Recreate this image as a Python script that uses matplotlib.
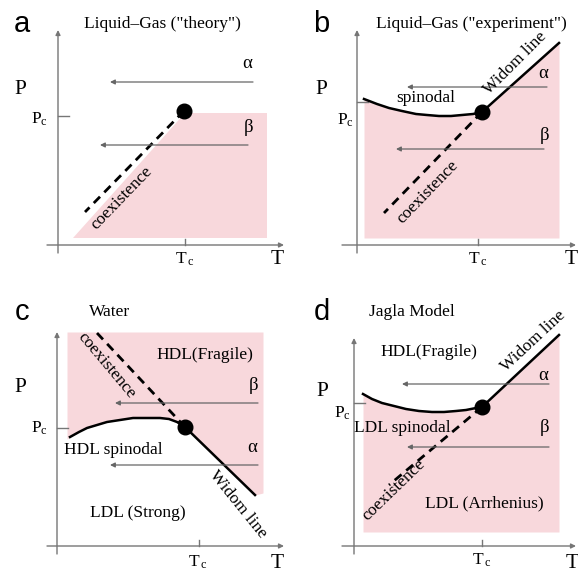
import matplotlib.pyplot as plt

plt.rcParams['font.family'] = ['Liberation Serif', 'DejaVu Serif']
plt.rcParams['mathtext.default'] = 'regular'

PINK = '#f8d8dc'
AXIS = '#767676'
ARROW = '#666666'

# ---- panel a : liquid-gas "theory"  (T, P in schematic units)
a_crit = (126, 134)
a_pink_T = [15, 127, 209, 209]
a_pink_P = [7, 132, 132, 7]
a_coex_T = [126, 27]
a_coex_P = [134, 33]
a_alpha = (195, 52, 163)     # T start, T end, P
a_beta = (190, 42, 100)

# ---- panel b : liquid-gas "experiment"
b_crit = (125, 133)
b_spin_T = [7, 20, 32, 45, 59, 70, 82, 94, 105, 116, 125]
b_spin_P = [146, 141, 137, 134, 131, 130, 129, 129, 130, 131, 133]
b_widom_T = [125, 202]
b_widom_P = [133, 202]
b_coex_T = [125, 27]
b_coex_P = [133, 32]
b_alpha = (190, 50, 158)
b_beta = (187, 39, 96)

# ---- panel c : water
c_crit = (128, 119)
c_spin_T = [13, 22, 30, 40, 50, 63, 76, 90, 103, 112, 120, 128]
c_spin_P = [109, 114, 118, 121, 124, 126, 128, 128, 128, 127, 124, 119]
c_widom_T = [128, 198]
c_widom_P = [119, 51]
c_coex_T = [128, 40]
c_coex_P = [119, 213]
c_alpha = (201, 53, 81)
c_beta = (201, 58, 143)

# ---- panel d : Jagla model
d_crit = (128, 139)
d_spin_T = [9, 18, 28, 40, 52, 65, 78, 90, 102, 112, 122, 128]
d_spin_P = [152, 147, 143, 140, 137, 135, 134, 134, 135, 136, 138, 139]
d_widom_T = [128, 205]
d_widom_P = [139, 211]
d_coex_T = [128, 35]
d_coex_P = [139, 61]
d_alpha = (195, 48, 162)
d_beta = (195, 53, 99)


def frame(ax, xlim, ylim, ytop, xleft, xright, Tc, Pc):
    ax.set_xlim(*xlim)
    ax.set_ylim(*ylim)
    ax.axis('off')
    ax.annotate('', xy=(0, ytop), xytext=(0, -8),
                arrowprops=dict(arrowstyle='-|>', color=AXIS, lw=1.0,
                                mutation_scale=7, shrinkA=0, shrinkB=0))
    ax.annotate('', xy=(xright, 0), xytext=(xleft, 0),
                arrowprops=dict(arrowstyle='-|>', color=AXIS, lw=1.0,
                                mutation_scale=7, shrinkA=0, shrinkB=0))
    ax.plot([0, 11], [Pc, Pc], color=AXIS, lw=1.0)
    ax.plot([Tc, Tc], [0, 6], color=AXIS, lw=1.0)


def hline_arrow(ax, spec):
    t0, t1, p = spec
    ax.annotate('', xy=(t1, p), xytext=(t0, p),
                arrowprops=dict(arrowstyle='-|>', color=ARROW, lw=0.9,
                                mutation_scale=7, shrinkA=0, shrinkB=0))


def crit_point(ax, pt):
    ax.plot(pt[0], pt[1], 'o', color='black', markersize=10.5, zorder=5)


def coex(ax, T, P):
    ax.plot(T, P, color='black', lw=2.0, linestyle=(0, (3.2, 2.2)), zorder=3)


fig = plt.figure(figsize=(5.78, 5.71), dpi=100)
W, H = 578, 571

ax_a = fig.add_axes([0, 1 - 285 / H, 289 / W, 285 / H])
ax_b = fig.add_axes([289 / W, 1 - 285 / H, 289 / W, 285 / H])
ax_c = fig.add_axes([0, 0, 289 / W, 286 / H])
ax_d = fig.add_axes([289 / W, 0, 289 / W, 286 / H])

big = 15.5
lab = 12.5
greek = 13.5
letter = dict(family='Liberation Sans', fontsize=21, ha='center', va='center')

# ---------------- a
ax = ax_a
frame(ax, (-58, 231), (-40, 245), 215, -11, 226, 127, 129)
ax.fill(a_pink_T, a_pink_P, color=PINK, lw=0, zorder=0)
coex(ax, a_coex_T, a_coex_P)
crit_point(ax, a_crit)
hline_arrow(ax, a_alpha)
hline_arrow(ax, a_beta)
ax.text(190, 181, r'$\alpha$', fontsize=greek, ha='center', va='center')
ax.text(190, 118, r'$\beta$', fontsize=greek, ha='center', va='center')
ax.text(64, 47, 'coexistence', fontsize=lab, rotation=46, ha='center', va='center')
ax.text(104, 221, 'Liquid\u2013Gas ("theory")', fontsize=lab, ha='center', va='center')
ax.text(-36, 221, 'a', **letter)
ax.text(-38, 155, 'P', fontsize=big, ha='center', va='center')
ax.text(219, -14, 'T', fontsize=big, ha='center', va='center')
ax.text(-19, 126, r'$P_c$', fontsize=lab, ha='center', va='center')
ax.text(127, -14, r'$T_{\,c}$', fontsize=lab, ha='center', va='center')

# ---------------- b
ax = ax_b
frame(ax, (-68, 221), (-40, 245), 215, -15, 219, 121, 143)
ax.fill_between(b_spin_T + b_widom_T, 7, b_spin_P + b_widom_P, color=PINK, lw=0, zorder=0)
ax.plot(b_spin_T, b_spin_P, color='black', lw=1.8)
ax.plot(b_widom_T, b_widom_P, color='black', lw=1.8)
coex(ax, b_coex_T, b_coex_P)
crit_point(ax, b_crit)
hline_arrow(ax, b_alpha)
hline_arrow(ax, b_beta)
ax.text(187, 172, r'$\alpha$', fontsize=greek, ha='center', va='center')
ax.text(187, 110, r'$\beta$', fontsize=greek, ha='center', va='center')
ax.text(69, 147, 'spinodal', fontsize=lab, ha='center', va='center')
ax.text(158, 182, 'Widom line', fontsize=lab, rotation=45, ha='center', va='center')
ax.text(71, 53, 'coexistence', fontsize=lab, rotation=46, ha='center', va='center')
ax.text(114, 221, 'Liquid\u2013Gas ("experiment")', fontsize=lab, ha='center', va='center')
ax.text(-36, 221, 'b', **letter)
ax.text(-36, 155, 'P', fontsize=big, ha='center', va='center')
ax.text(214, -14, 'T', fontsize=big, ha='center', va='center')
ax.text(-12, 125, r'$P_c$', fontsize=lab, ha='center', va='center')
ax.text(121, -14, r'$T_{\,c}$', fontsize=lab, ha='center', va='center')

# ---------------- c
ax = ax_c
frame(ax, (-57, 232), (-25, 261), 214, -10, 227, 142, 118)
ax.fill_between([10] + c_spin_T + c_widom_T + [206], [107] + c_spin_P + c_widom_P + [53], 214,
                color=PINK, lw=0, zorder=0)
ax.plot(c_spin_T, c_spin_P, color='black', lw=1.8)
ax.plot(c_widom_T, c_widom_P, color='black', lw=1.8)
coex(ax, c_coex_T, c_coex_P)
crit_point(ax, c_crit)
hline_arrow(ax, c_alpha)
hline_arrow(ax, c_beta)
ax.text(196, 98, r'$\alpha$', fontsize=greek, ha='center', va='center')
ax.text(196, 161, r'$\beta$', fontsize=greek, ha='center', va='center')
ax.text(148, 191, 'HDL(Fragile)', fontsize=lab, ha='center', va='center')
ax.text(56, 96, 'HDL spinodal', fontsize=lab, ha='center', va='center')
ax.text(81, 33, 'LDL (Strong)', fontsize=lab, ha='center', va='center')
ax.text(181, 42, 'Widom line', fontsize=lab, rotation=-51, ha='center', va='center')
ax.text(50, 180, 'coexistence', fontsize=lab, rotation=-50, ha='center', va='center')
ax.text(53, 234, 'Water', fontsize=lab, ha='center', va='center')
ax.text(-35, 234, 'c', **letter)
ax.text(-37, 158, 'P', fontsize=big, ha='center', va='center')
ax.text(220, -17, 'T', fontsize=big, ha='center', va='center')
ax.text(-18, 118, r'$P_c$', fontsize=lab, ha='center', va='center')
ax.text(141, -16, r'$T_{\,c}$', fontsize=lab, ha='center', va='center')

# ---------------- d
ax = ax_d
frame(ax, (-65, 224), (-25, 261), 208, -12, 222, 128, 143)
ax.fill_between(d_spin_T + d_widom_T, 14, d_spin_P + d_widom_P, color=PINK, lw=0, zorder=0)
ax.plot(d_spin_T, d_spin_P, color='black', lw=1.8)
ax.plot(d_widom_T, d_widom_P, color='black', lw=1.8)
coex(ax, d_coex_T, d_coex_P)
crit_point(ax, d_crit)
hline_arrow(ax, d_alpha)
hline_arrow(ax, d_beta)
ax.text(190, 171, r'$\alpha$', fontsize=greek, ha='center', va='center')
ax.text(190, 119, r'$\beta$', fontsize=greek, ha='center', va='center')
ax.text(75, 194, 'HDL(Fragile)', fontsize=lab, ha='center', va='center')
ax.text(48, 118, 'LDL spinodal', fontsize=lab, ha='center', va='center')
ax.text(130, 43, 'LDL (Arrhenius)', fontsize=lab, ha='center', va='center')
ax.text(179, 205, 'Widom line', fontsize=lab, rotation=43, ha='center', va='center')
ax.text(40, 56, 'coexistence', fontsize=lab, rotation=44, ha='center', va='center')
ax.text(58, 234, 'Jagla Model', fontsize=lab, ha='center', va='center')
ax.text(-32, 234, 'd', **letter)
ax.text(-32, 154, 'P', fontsize=big, ha='center', va='center')
ax.text(218, -17, 'T', fontsize=big, ha='center', va='center')
ax.text(-12, 133, r'$P_c$', fontsize=lab, ha='center', va='center')
ax.text(128, -14, r'$T_{\,c}$', fontsize=lab, ha='center', va='center')

fig.savefig('out.png', dpi=100)
